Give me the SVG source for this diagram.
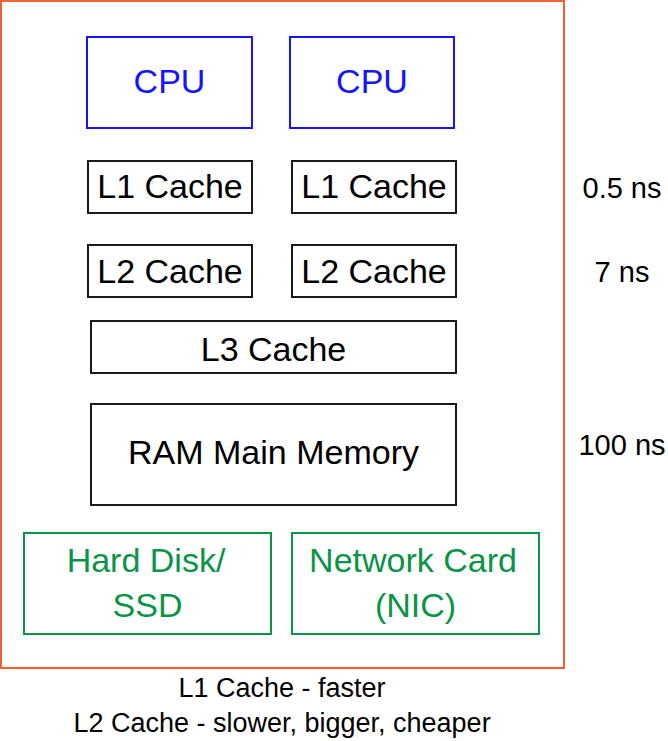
<svg xmlns="http://www.w3.org/2000/svg" width="668" height="741" viewBox="0 0 668 741">
<style>
  text { font-family: "Liberation Sans", Arial, sans-serif; text-anchor: middle; }
  .box { fill: #ffffff; stroke-width: 2; }
  .blk { stroke: #1a1a1a; }
  .blu { stroke: #1414ff; }
  .grn { stroke: #0a9447; }
  .t { font-size: 34px; fill: #000000; }
  .tb { font-size: 34px; fill: #1414ff; }
  .tg { font-size: 34px; fill: #0a9447; }
  .side { font-size: 29px; fill: #000000; }
  .cap { font-size: 27px; fill: #000000; }
</style>
<rect width="668" height="741" fill="#ffffff"/>
<g id="system">
  <rect x="1" y="1" width="563" height="667" fill="none" stroke="#f26135" stroke-width="2"/>
</g>
<g id="cpu1"><rect class="box blu" x="87" y="37" width="165" height="91"/><text class="tb" x="169.5" y="93">CPU</text></g>
<g id="cpu2"><rect class="box blu" x="290" y="37" width="164" height="91"/><text class="tb" x="372" y="93">CPU</text></g>
<g id="l1a"><rect class="box blk" x="88" y="161" width="164" height="52"/><text class="t" x="170" y="198">L1 Cache</text></g>
<g id="l1b"><rect class="box blk" x="292" y="161" width="164" height="52"/><text class="t" x="374" y="198">L1 Cache</text></g>
<g id="l2a"><rect class="box blk" x="88" y="245" width="164" height="52"/><text class="t" x="170" y="283">L2 Cache</text></g>
<g id="l2b"><rect class="box blk" x="292" y="245" width="164" height="52"/><text class="t" x="374" y="283">L2 Cache</text></g>
<g id="l3"><rect class="box blk" x="91" y="321" width="365" height="52"/><text class="t" x="273.5" y="361">L3 Cache</text></g>
<g id="ram"><rect class="box blk" x="91" y="404" width="365" height="101"/><text class="t" x="273.5" y="464">RAM Main Memory</text></g>
<g id="disk"><rect class="box grn" x="24" y="533" width="247" height="101"/><text class="tg" x="146" y="572">Hard Disk/</text><text class="tg" x="147.5" y="617">SSD</text></g>
<g id="nic"><rect class="box grn" x="292" y="533" width="247" height="101"/><text class="tg" x="413" y="572">Network Card</text><text class="tg" x="415.5" y="617">(NIC)</text></g>
<g id="connectors"></g>
<g id="labels">
  <text class="side" x="622" y="198">0.5 ns</text>
  <text class="side" x="622" y="282">7 ns</text>
  <text class="side" x="622" y="455">100 ns</text>
  <text class="cap" x="282" y="697">L1 Cache - faster</text>
  <text class="cap" x="282" y="732">L2 Cache - slower, bigger, cheaper</text>
</g>
</svg>
